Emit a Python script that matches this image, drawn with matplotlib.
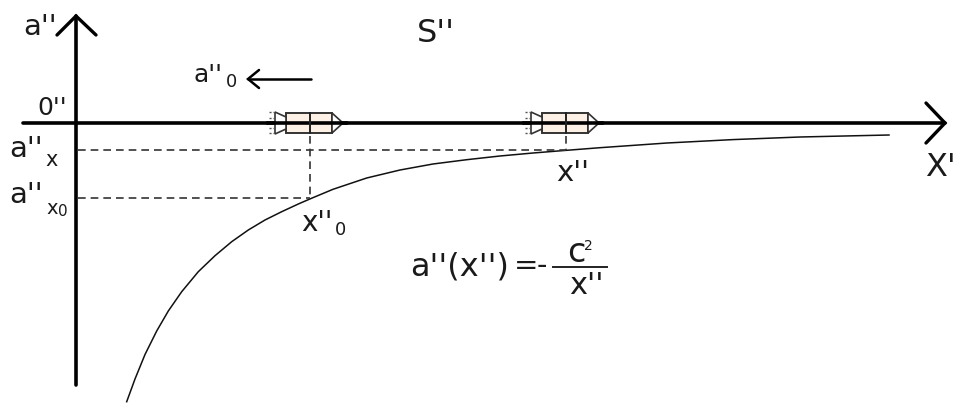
import matplotlib
matplotlib.use("Agg")
import matplotlib.pyplot as plt
from matplotlib.patches import Polygon, Rectangle

curve_x = [126.7, 135, 145, 156.7, 168.3, 181.7, 198.3, 215, 231.7, 248.3, 265, 281.7, 298.3, 311, 333, 366.7, 400, 433, 466.7, 500, 533, 566.7, 600, 667, 733, 800, 889]
curve_y = [401.7, 379, 354.5, 331, 311, 291.7, 271.7, 255.7, 241.7, 230, 220, 211.7, 204, 198.5, 189.3, 178, 170, 164, 159.7, 156, 153, 150.3, 147.7, 143, 139.6, 137, 135]
ship_x = [310, 566]
guide_y = [150, 198]
guide_x = [310, 566]

labels = [
    (23, 27, "a''", 21),
    (37, 108, "0''", 18),
    (9, 149, "a''", 21),
    (45, 160, "x", 15),
    (9, 195, "a''", 21),
    (46, 209, "x", 14),
    (58, 212, "0", 11),
    (417, 33, "S''", 23),
    (193, 75, "a''", 18),
    (226, 82, "0", 13),
    (556, 173, "x''", 21),
    (301, 223, "x''", 20),
    (335, 230, "0", 13),
    (925, 168, "X'", 23),
    (410, 267, "a''(x'')", 23),
    (514, 266, "=", 21),
    (537, 266, "-", 21),
    (567, 252, "c", 24),
    (584, 246, "2", 10),
    (569, 286, "x''", 22),
]

fig = plt.figure(figsize=(9.55, 4.03), dpi=100)
ax = fig.add_axes([0, 0, 1, 1])
ax.set_xlim(0, 955)
ax.set_ylim(403, 0)
ax.axis("off")

# axes
ax.plot([23, 945], [123, 123], color="black", lw=2.6, solid_capstyle="round", zorder=3)
ax.plot([76, 76], [385, 16], color="black", lw=2.6, solid_capstyle="round", zorder=3)
ax.plot([57, 76, 96], [35, 16, 35], color="black", lw=2.4, solid_capstyle="round", solid_joinstyle="miter", zorder=3)
ax.plot([926, 945, 926], [103, 123, 143], color="black", lw=2.4, solid_capstyle="round", solid_joinstyle="miter", zorder=3)

# curve
ax.plot(curve_x, curve_y, color="#111111", lw=1.1, zorder=2, solid_joinstyle="round")

# guides
dash = (0, (4.6, 3.0))
ax.plot([78, guide_x[1]], [guide_y[0]] * 2, color="#333333", lw=1.2, ls=dash)
ax.plot([78, guide_x[0]], [guide_y[1]] * 2, color="#333333", lw=1.2, ls=dash)
ax.plot([guide_x[0]] * 2, [136, guide_y[1]], color="#333333", lw=1.2, ls=dash)
ax.plot([guide_x[1]] * 2, [136, guide_y[0]], color="#333333", lw=1.2, ls=dash)

# ships
for sx in ship_x:
    ax.add_patch(Rectangle((sx - 24, 113), 46, 20, facecolor="#fdf0e4", edgecolor="#333333", lw=1.4, zorder=4))
    ax.add_patch(Polygon([(sx + 22, 113), (sx + 33, 123), (sx + 22, 133)], facecolor="white", edgecolor="#333333", lw=1.2, zorder=4))
    ax.add_patch(Polygon([(sx - 35, 112), (sx - 24, 117), (sx - 24, 129), (sx - 35, 134)], facecolor="white", edgecolor="#333333", lw=1.2, zorder=4))
    ax.plot([sx - 42, sx + 36], [123, 123], color="black", lw=2.6, zorder=5)
    ax.plot([sx, sx], [113, 133], color="#222222", lw=1.4, zorder=5)
    for ty in (112, 118, 128, 133):
        ax.plot([sx - 41, sx - 37], [ty, ty], color="#555555", lw=1.0, ls=(0, (1.5, 1)), zorder=5)

# motion arrow
ax.plot([311, 248], [79, 79], color="black", lw=1.8, solid_capstyle="round")
ax.plot([259, 248, 259], [70, 79, 88], color="black", lw=1.8, solid_capstyle="round", solid_joinstyle="miter")

# fraction bar
ax.plot([553, 607], [267, 267], color="#222222", lw=1.4)

for x, y, s, fs in labels:
    ax.text(x, y, s, fontsize=fs, ha="left", va="center", family="DejaVu Sans", color="#1a1a1a", zorder=6)

fig.savefig("out.png", dpi=100)
